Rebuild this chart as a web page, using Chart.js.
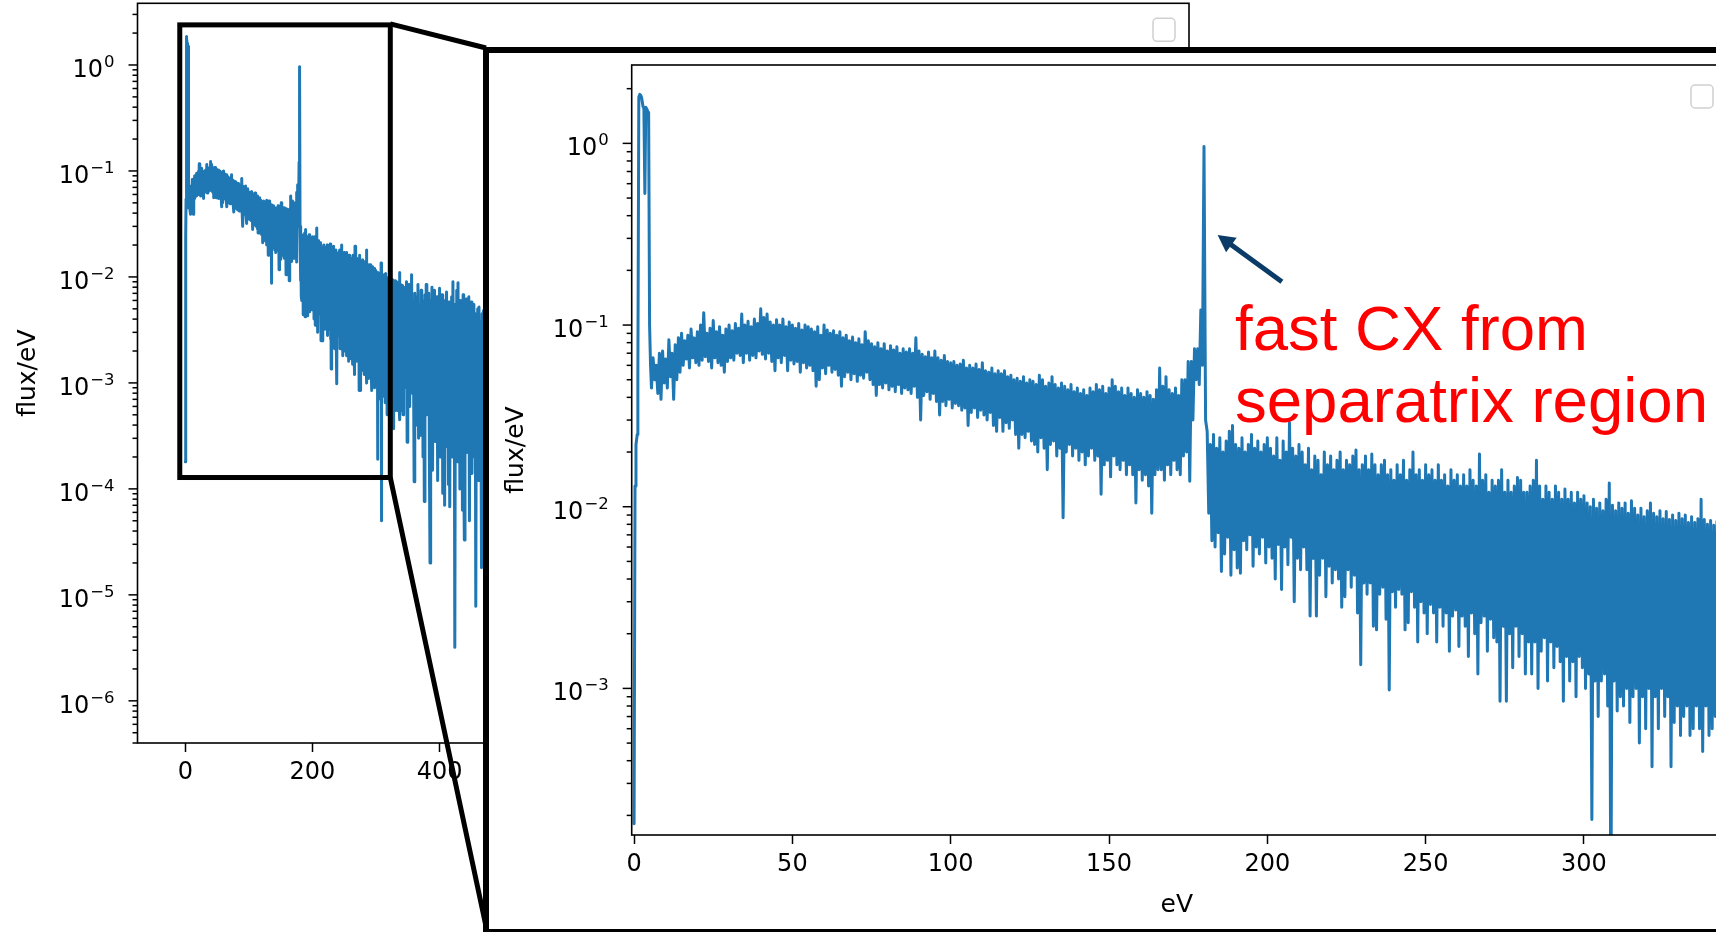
<!DOCTYPE html>
<html>
<head>
<meta charset="utf-8">
<script src="https://cdn.jsdelivr.net/npm/chart.js@4.4.1/dist/chart.umd.min.js"></script>
<style>
  html, body { margin: 0; padding: 0; background: #fff; }
  body { width: 1716px; height: 932px; position: relative; overflow: hidden; }
  #full { position: absolute; left: 0; top: 0; }
  #frame { position: absolute; left: 483px; top: 47px; width: 1400px; height: 876px; border: 6px solid #000; background: #fff; }
  #zoom { position: absolute; left: 489px; top: 53px; }
</style>
</head>
<body>
<canvas id="full" width="1716" height="932"></canvas>
<div id="frame"></div>
<canvas id="zoom" width="1300" height="876"></canvas>
<script>
// low energy peak, finer sampling (eV, flux/eV)
const peakEnergy = [0, 0.3, 0.6, 1.0, 1.2, 1.5, 1.8, 2.1, 2.4, 2.8, 3.1, 3.4, 3.7, 4.0, 4.3, 4.6, 4.9, 5.2, 5.5];
const peakFlux = [1.8e-4, 0.013, 0.022, 0.025, 0.054, 1.8, 1.86, 1.84, 1.78, 1.6, 1.55, 0.53, 1.58, 1.55, 1.5, 1.48, 0.1, 0.06, 0.045];

// noisy band, per 1 eV bin: top and bottom of the band
const bandTop006 = [0.066, 0.06, 0.07, 0.072, 0.065, 0.083, 0.07, 0.078, 0.085,
  0.09, 0.082, 0.088, 0.095, 0.085, 0.092, 0.1, 0.117, 0.09, 0.096,
  0.106, 0.092, 0.098, 0.088, 0.095, 0.1, 0.093, 0.102, 0.096, 0.115,
  0.1, 0.105, 0.098, 0.108, 0.102, 0.123, 0.11, 0.115, 0.104, 0.1,
  0.107, 0.1, 0.108, 0.098, 0.104, 0.1, 0.096, 0.102, 0.094, 0.1, 0.098,
  0.095, 0.092, 0.098, 0.088, 0.1, 0.094, 0.09, 0.093, 0.088, 0.092,
  0.085, 0.088, 0.082, 0.086, 0.08, 0.084, 0.078, 0.092, 0.082, 0.079,
  0.076, 0.08, 0.074, 0.079, 0.072, 0.077, 0.073, 0.076, 0.07, 0.074,
  0.071, 0.074, 0.07, 0.085, 0.072, 0.069, 0.067, 0.071, 0.066, 0.072,
  0.066, 0.064, 0.068, 0.063, 0.062];
const bandLow006 = [0.05, 0.042, 0.039, 0.048, 0.045, 0.052, 0.039, 0.05, 0.055,
  0.06, 0.065, 0.058, 0.066, 0.062, 0.06, 0.064, 0.067, 0.063, 0.058,
  0.066, 0.062, 0.06, 0.055, 0.063, 0.066, 0.064, 0.07, 0.068, 0.062,
  0.07, 0.064, 0.068, 0.066, 0.072, 0.069, 0.065, 0.07, 0.063, 0.056,
  0.066, 0.062, 0.068, 0.056, 0.064, 0.061, 0.063, 0.055, 0.062, 0.058, 0.06,
  0.056, 0.046, 0.05, 0.058, 0.054, 0.06, 0.055, 0.057, 0.053, 0.046,
  0.052, 0.055, 0.05, 0.054, 0.049, 0.053, 0.051, 0.055, 0.05, 0.047,
  0.041, 0.047, 0.045, 0.048, 0.044, 0.046, 0.043, 0.047, 0.042, 0.045,
  0.044, 0.042, 0.046, 0.04, 0.03, 0.041, 0.043, 0.039, 0.042, 0.038,
  0.032, 0.038, 0.036, 0.039, 0.035];
const bandTop101 = [0.063, 0.06, 0.061, 0.064, 0.058,
  0.06, 0.058, 0.061, 0.057, 0.062, 0.056, 0.055, 0.058, 0.054, 0.056,
  0.054, 0.056, 0.052, 0.053, 0.05, 0.051, 0.049, 0.052, 0.048, 0.05,
  0.049, 0.047, 0.053, 0.05, 0.046, 0.048, 0.052, 0.047, 0.045, 0.048,
  0.046, 0.044, 0.047, 0.043, 0.045, 0.042, 0.044, 0.041, 0.045, 0.043,
  0.047, 0.044, 0.046, 0.042, 0.045, 0.05, 0.046, 0.043, 0.045, 0.041,
  0.045, 0.042, 0.04, 0.044, 0.042, 0.04, 0.043, 0.041, 0.039, 0.044,
  0.058, 0.046, 0.052, 0.044, 0.042, 0.045, 0.041, 0.05, 0.05, 0.063,
  0.063, 0.074, 0.074, 0.121, 0.96, 0.026,
  0.022, 0.025, 0.021, 0.024, 0.02, 0.023, 0.026, 0.028, 0.022, 0.021,
  0.024, 0.02, 0.022, 0.025, 0.021, 0.023, 0.02, 0.022, 0.024];
const bandLow101 = [0.037, 0.036, 0.034, 0.035, 0.028,
  0.033, 0.035, 0.031, 0.034, 0.032, 0.03, 0.033, 0.028, 0.026, 0.031,
  0.026, 0.029, 0.027, 0.03, 0.025, 0.021, 0.025, 0.024, 0.026, 0.023,
  0.022, 0.02, 0.024, 0.021, 0.016, 0.022, 0.023, 0.019, 0.021, 0.0087,
  0.02, 0.022, 0.019, 0.021, 0.018, 0.02, 0.017, 0.019, 0.021, 0.018,
  0.019, 0.0117, 0.017, 0.018, 0.0146, 0.019, 0.017, 0.016, 0.018, 0.015,
  0.017, 0.015, 0.0105, 0.016, 0.014, 0.015, 0.013, 0.0092, 0.015, 0.016,
  0.016, 0.014, 0.017, 0.015, 0.018, 0.016, 0.015, 0.019, 0.02, 0.0138,
  0.03, 0.05, 0.047, 0.06, 0.03, 0.0092,
  0.0065, 0.006, 0.0072, 0.0044, 0.0055, 0.0068, 0.0042, 0.0058, 0.0046, 0.0043,
  0.0065, 0.0058, 0.007, 0.0047, 0.006, 0.0055, 0.0068, 0.0049, 0.006];
const bandTop201 = [0.021,
  0.019, 0.024, 0.018, 0.023, 0.02, 0.029, 0.021, 0.019, 0.022, 0.02,
  0.017, 0.021, 0.016, 0.019, 0.018, 0.015, 0.02, 0.017, 0.019, 0.016,
  0.018, 0.02, 0.016, 0.018, 0.017, 0.019, 0.0205, 0.016, 0.017, 0.019,
  0.016, 0.0195, 0.017, 0.015, 0.017, 0.018, 0.015, 0.016, 0.014, 0.017,
  0.015, 0.018, 0.014, 0.016, 0.02, 0.015, 0.016, 0.014, 0.017, 0.015,
  0.016, 0.014, 0.017, 0.014, 0.015, 0.013, 0.016, 0.014, 0.015, 0.013,
  0.015, 0.013, 0.016, 0.014, 0.013, 0.0195, 0.014, 0.015, 0.012, 0.014,
  0.013, 0.014, 0.016, 0.012, 0.014, 0.012, 0.013, 0.0145, 0.014, 0.012,
  0.012, 0.013, 0.014, 0.018, 0.013, 0.011, 0.013, 0.012, 0.011, 0.013,
  0.012, 0.011, 0.0125, 0.011, 0.012, 0.0105, 0.012, 0.011, 0.0115, 0.0105,
  0.01, 0.011, 0.0098, 0.0105, 0.0095, 0.011, 0.0135, 0.0102, 0.0095, 0.0105,
  0.0098, 0.0105, 0.0092, 0.0108, 0.0098, 0.009, 0.0098, 0.0088, 0.0095, 0.0105,
  0.0092, 0.0088, 0.0095, 0.0086, 0.0094, 0.0085, 0.009, 0.0084, 0.0092, 0.0086,
  0.009, 0.0082, 0.0088, 0.0082, 0.0086, 0.011, 0.0085, 0.008, 0.0084, 0.0079, 0.0083];
const bandLow201 = [0.0052,
  0.004, 0.0062, 0.0035, 0.006, 0.0048, 0.0068, 0.003, 0.0052, 0.0045, 0.006,
  0.0045, 0.0025, 0.0052, 0.0025, 0.0042, 0.0052, 0.0032, 0.0047, 0.0038, 0.0045,
  0.004, 0.0028, 0.0032, 0.0045, 0.0036, 0.0042, 0.0026, 0.00135, 0.0038, 0.0033,
  0.0038, 0.0022, 0.0021, 0.0033, 0.0036, 0.0024, 0.00098, 0.0034, 0.0028, 0.0035,
  0.0033, 0.0021, 0.0023, 0.0034, 0.0028, 0.0018, 0.003, 0.0026, 0.002, 0.0029,
  0.0026, 0.0018, 0.0028, 0.0022, 0.0026, 0.0016, 0.0025, 0.0027, 0.0017, 0.0025,
  0.0022, 0.0015, 0.0026, 0.002, 0.0012, 0.0023, 0.0025, 0.0016, 0.0024, 0.0019,
  0.0018, 0.00085, 0.0022, 0.00085, 0.002, 0.0013, 0.0022, 0.0015, 0.002, 0.0012,
  0.0018, 0.0012, 0.0018, 0.001, 0.0016, 0.0019, 0.0011, 0.0018, 0.0013, 0.0017,
  0.0014, 0.00085, 0.0015, 0.0011, 0.0014, 0.0009, 0.0015, 0.0013, 0.001, 0.0012,
  0.00019, 0.0011, 0.0007, 0.0011, 0.0012, 0.0008, 0.00005, 0.0011, 0.00075, 0.0009,
  0.0008, 0.001, 0.00065, 0.0009, 0.001, 0.0005, 0.0009, 0.0006, 0.001, 0.00037,
  0.0009, 0.0006, 0.001, 0.0007, 0.0009, 0.00037, 0.00065, 0.0008, 0.00055, 0.0007,
  0.0008, 0.00055, 0.0006, 0.0008, 0.0006, 0.00045, 0.0008, 0.00055, 0.0006, 0.0007, 0.0005];
const bandStarts = [6, 101, 201];
const bandTop = [bandTop006, bandTop101, bandTop201];
const bandLow = [bandLow006, bandLow101, bandLow201];

// 343-480 eV, only seen in the full-range plot, 1 eV bins
const tailStart = 343;
const tailFlux = [0.0025, 0.008, 0.0009, 0.0065, 0.0018, 0.009, 0.000275, 0.0055, 0.0012, 0.0085, 0.0006, 0.005, 0.002, 0.0105, 0.0008, 0.006, 0.0015, 0.000117,
  0.007, 0.0025, 0.0004, 0.0065, 0.001, 0.0085, 0.0003, 0.005, 0.0018, 0.00032, 0.0075, 0.0012, 0.006, 0.0002, 0.0045, 0.000076, 0.0068, 0.0015, 0.0085, 0.0005,
  0.0055, 0.0009, 0.007, 0.00018, 0.00002, 0.006, 0.0022, 0.008, 0.00015, 0.005, 0.0011, 0.0075, 0.00028, 0.0045, 0.0016, 0.0065, 0.00012, 0.0055, 0.0008, 0.0078,
  0.0002, 0.005, 0.0013, 0.0068, 0.000091, 0.0045, 0.0009, 0.00007, 0.006, 0.0018,
  0.0072, 0.00025, 0.005, 0.00011, 0.0058, 0.000068, 0.0042, 0.0012, 0.0065, 0.0002,
  0.009, 0.0007, 0.0055, 0.0000032, 0.0048, 0.0014, 0.0075, 0.00018, 0.0088, 0.0006,
  0.005, 0.0001, 0.006, 0.0011, 0.0045, 0.000063, 0.0068, 0.00015, 0.000033, 0.005,
  0.0009, 0.0062, 0.00022, 0.0042, 0.0013, 0.0065, 0.00005, 0.0048, 0.0006, 0.0058,
  0.00014, 0.004, 0.001, 0.0055, 0.0002, 0.0045, 0.0000078, 0.0035, 0.0008, 0.005,
  0.00012, 0.0052, 0.0004, 0.0038, 0.0009, 0.000018, 0.0045, 0.0002, 0.0048, 0.0007,
  0.0042, 0.00011, 0.0035, 0.0012, 0.0045, 0.00025, 0.004, 0.0008, 0.0038, 0.0003];

// axes
const fullXTicks = [0, 200, 400, 600, 800, 1000, 1200, 1400];
const zoomXTicks = [0, 50, 100, 150, 200, 250, 300];
const fullDecades = [-6, -5, -4, -3, -2, -1, 0];
const zoomDecades = [-3, -2, -1, 0];
const minorSteps = [2, 3, 4, 5, 6, 7, 8, 9];

// region of the full plot shown enlarged
const zoomBox = { x0: -8.7, x1: 322.5, y0: 1.28e-4, y1: 2.39 };
const note = { lines: ['fast CX from', 'separatrix region'], x: 189.8, y: 0.0729 };
const arrowFrom = { x: 204.6, y: 0.173 };
const arrowTo = { x: 184.3, y: 0.313 };

const spectrum = peakEnergy.map((e, i) => ({ x: e, y: peakFlux[i] }));
bandStarts.forEach((start, j) => bandTop[j].forEach((v, i) => {
  spectrum.push({ x: start + i, y: v });
  spectrum.push({ x: start + i + 0.5, y: bandLow[j][i] });
}));
tailFlux.forEach((v, i) => spectrum.push({ x: tailStart + i, y: v }));

Chart.defaults.font.family = "'DejaVu Sans', sans-serif";
Chart.defaults.color = '#000';

function mplFrame(cfg) {
  return {
    id: 'mplFrame',
    afterDraw(chart) {
      const { ctx, chartArea: a, scales: { y } } = chart;
      ctx.save();
      ctx.strokeStyle = '#000';
      ctx.lineWidth = 1.5;
      const first = cfg.decades[0] - 1, last = cfg.decades[cfg.decades.length - 1];
      for (let n = first; n <= last; n++) {
        [1].concat(minorSteps).forEach(k => {
          const v = k * Math.pow(10, n);
          if (v < y.min || v > y.max) return;
          const py = y.getPixelForValue(v);
          const len = k === 1 ? 9 : 5;
          ctx.beginPath();
          ctx.moveTo(a.left - len, py);
          ctx.lineTo(a.left, py);
          ctx.stroke();
        });
      }
      ctx.fillStyle = '#000';
      ctx.textAlign = 'left';
      ctx.textBaseline = 'alphabetic';
      cfg.decades.forEach(n => {
        const py = y.getPixelForValue(Math.pow(10, n));
        const sup = n === 0 ? '0' : '\u2212' + Math.abs(n);
        ctx.font = "16.5px 'DejaVu Sans'";
        const sw = ctx.measureText(sup).width;
        ctx.font = "24px 'DejaVu Sans'";
        const bw = ctx.measureText('10').width;
        const right = a.left - 23;
        ctx.fillText('10', right - sw - bw - 1, py + 12);
        ctx.font = "16.5px 'DejaVu Sans'";
        ctx.fillText(sup, right - sw, py + 2);
      });
      ctx.lineWidth = 1.6;
      ctx.strokeRect(a.left, a.top, a.right - a.left, a.bottom - a.top);
      // empty legend frame
      const lg = cfg.legend;
      ctx.fillStyle = 'rgba(255,255,255,0.8)';
      ctx.strokeStyle = '#d0d0d0';
      ctx.lineWidth = 1.5;
      ctx.beginPath();
      ctx.roundRect(a.right - lg.dx - 22, a.top + lg.dy, 22, 23, 4);
      ctx.fill();
      ctx.stroke();
      if (cfg.extra) cfg.extra(chart);
      ctx.restore();
    }
  };
}

function xScale(min, max, ticks, height) {
  return {
    type: 'linear', min, max,
    afterFit: s => { s.height = height; },
    afterBuildTicks: s => { s.ticks = ticks.map(v => ({ value: v })); },
    ticks: { font: { size: 24 }, color: '#000', padding: 6, autoSkip: false, maxRotation: 0, callback: v => String(v) },
    grid: { drawOnChartArea: false, drawTicks: true, tickLength: 9, color: '#000', tickWidth: 1.5 },
    border: { display: false }
  };
}

function yScale(min, max, width, pad) {
  return {
    type: 'logarithmic', min, max,
    afterFit: s => { s.width = width; },
    ticks: { display: false },
    grid: { display: false },
    border: { display: false },
    title: { display: true, text: 'flux/eV', font: { size: 25 }, color: '#000', padding: { top: pad, bottom: 0 } }
  };
}

function lineSet() {
  return {
    data: spectrum.slice(),
    borderColor: '#1f77b4',
    borderWidth: 3,
    pointRadius: 0,
    borderJoinStyle: 'round',
    borderCapStyle: 'round',
    tension: 0,
    clip: 0
  };
}

const baseOpts = {
  responsive: false,
  devicePixelRatio: 1,
  animation: false,
  events: [],
  plugins: { legend: { display: false }, tooltip: { enabled: false } }
};

new Chart(document.getElementById('full'), {
  type: 'line',
  data: { datasets: [lineSet()] },
  options: Object.assign({}, baseOpts, {
    layout: { padding: { left: 0, top: 3.3, right: 527, bottom: 0 } },
    scales: {
      x: xScale(-75.2, 1579, fullXTicks, 189),
      y: yScale(4.0e-7, 3.82, 137.5, 13)
    }
  }),
  plugins: [mplFrame({
    decades: fullDecades,
    legend: { dx: 14, dy: 15 },
    extra(chart) {
      const { ctx, scales: { x, y } } = chart;
      const l = x.getPixelForValue(zoomBox.x0), r = x.getPixelForValue(zoomBox.x1);
      const t = y.getPixelForValue(zoomBox.y1), b = y.getPixelForValue(zoomBox.y0);
      const frame = document.getElementById('frame');
      const fx = frame.offsetLeft + 3, fy = frame.offsetTop + 1, fb = 931;
      ctx.strokeStyle = '#000';
      ctx.lineWidth = 5;
      ctx.lineJoin = 'miter';
      ctx.strokeRect(l, t, r - l, b - t);
      ctx.beginPath();
      ctx.moveTo(r, t - 1);
      ctx.lineTo(fx, fy);
      ctx.moveTo(r, b);
      ctx.lineTo(fx + 1, fb);
      ctx.stroke();
    }
  })]
});

new Chart(document.getElementById('zoom'), {
  type: 'line',
  data: { datasets: [lineSet()] },
  options: Object.assign({}, baseOpts, {
    layout: { padding: { left: 0, top: 12, right: 67, bottom: 0 } },
    scales: {
      x: Object.assign(xScale(-0.75, 343.6, zoomXTicks, 94), {
        title: { display: true, text: 'eV', font: { size: 25 }, color: '#000', padding: { top: 0, bottom: 9 } }
      }),
      y: yScale(1.56e-4, 2.70, 142.7, 12)
    }
  }),
  plugins: [mplFrame({
    decades: zoomDecades,
    legend: { dx: 9, dy: 20 },
    extra(chart) {
      const { ctx, scales: { x, y } } = chart;
      const x1 = x.getPixelForValue(arrowFrom.x), y1 = y.getPixelForValue(arrowFrom.y);
      const x2 = x.getPixelForValue(arrowTo.x), y2 = y.getPixelForValue(arrowTo.y);
      const ang = Math.atan2(y2 - y1, x2 - x1);
      const head = 17, half = 9;
      const bx = x2 - head * Math.cos(ang), by = y2 - head * Math.sin(ang);
      ctx.strokeStyle = '#0b3c68';
      ctx.fillStyle = '#0b3c68';
      ctx.lineWidth = 5;
      ctx.lineCap = 'butt';
      ctx.beginPath();
      ctx.moveTo(x1, y1);
      ctx.lineTo(bx + 2 * Math.cos(ang), by + 2 * Math.sin(ang));
      ctx.stroke();
      ctx.beginPath();
      ctx.moveTo(x2, y2);
      ctx.lineTo(bx + half * Math.sin(ang), by - half * Math.cos(ang));
      ctx.lineTo(bx - half * Math.sin(ang), by + half * Math.cos(ang));
      ctx.closePath();
      ctx.fill();
      ctx.fillStyle = '#ff0000';
      ctx.font = "63.5px 'Liberation Sans', Arial, sans-serif";
      ctx.textAlign = 'left';
      ctx.textBaseline = 'alphabetic';
      const tx = x.getPixelForValue(note.x), ty = y.getPixelForValue(note.y);
      note.lines.forEach((s, i) => ctx.fillText(s, tx, ty + i * 72));
    }
  })]
});
</script>
</body>
</html>
